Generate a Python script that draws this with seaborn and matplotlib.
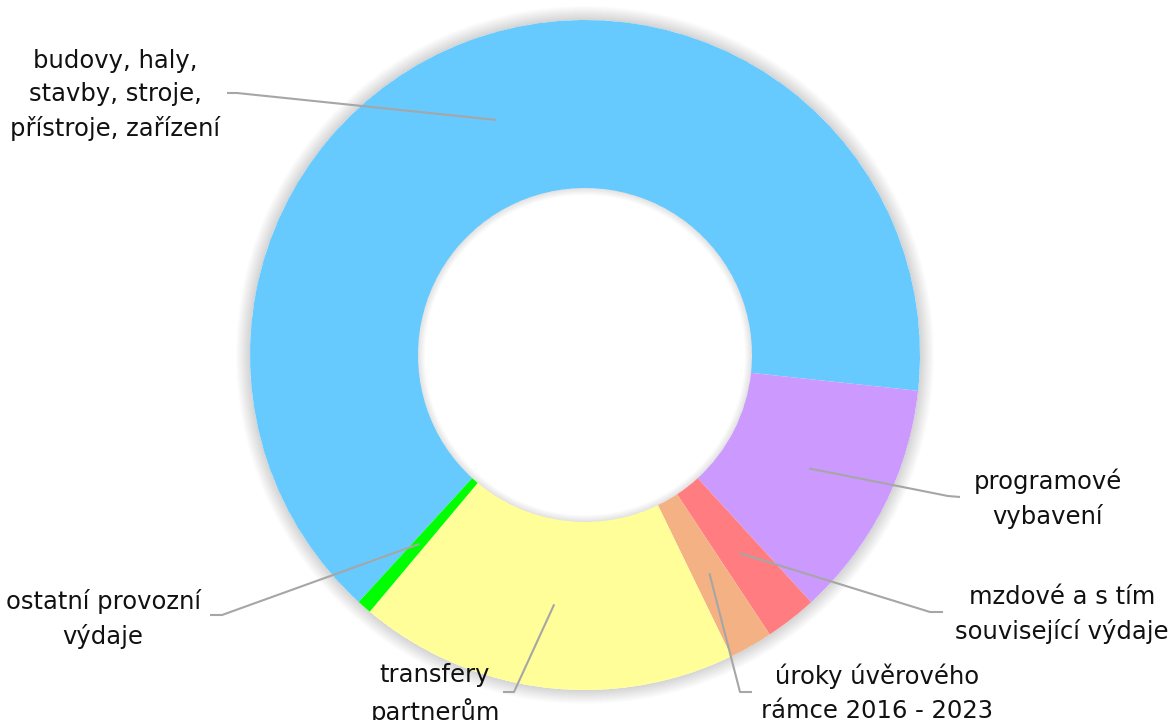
import numpy as np
import matplotlib
matplotlib.use("Agg")
import matplotlib.pyplot as plt
import seaborn as sns
from matplotlib.patches import Wedge

# Canvas in pixels
W, H = 1174, 720
CENTER = (585, H - 355)
R_OUT = 335
R_IN = 167

# Data
categories = [
    "budovy, haly,\nstavby, stroje,\npřístroje, zařízení",
    "programové\nvybavení",
    "mzdové a s tím\nsouvisející výdaje",
    "úroky úvěrového\nrámce 2016 - 2023",
    "transfery\npartnerům",
    "ostatní provozní\nvýdaje",
]
shares = [64.9, 11.5, 2.5, 2.1, 18.3, 0.7]
colors = ["#66CAFE", "#CC99FF", "#FF7C80", "#F4B183", "#FFFE99", "#00FF00"]

# label layout (pixel coords, y down): text centre, elbow, tail end
label_pos = [(115, 95), (1048, 499), (1062, 614), (877, 693), (435, 694), (103, 619)]
elbows = [(237, 93), (948, 496), (930, 612), (740, 692), (514, 692), (222, 615)]
tails = [(227, 93), (960, 497), (943, 612), (752, 692), (503, 692), (210, 615)]


def px(p):
    return p[0], H - p[1]


sns.set_theme(style="white")
plt.rcParams['font.family'] = ['DejaVu Sans']

fig = plt.figure(figsize=(W / 100, H / 100), dpi=100)
ax = fig.add_axes([0, 0, 1, 1])

# soft outer shadow (annuli so the hole stays white)
for k in range(1, 15):
    ax.add_patch(Wedge(CENTER, R_OUT + k, 0, 360, width=k, facecolor="black",
                       alpha=0.011, linewidth=0, zorder=0))

wedges, _ = ax.pie(shares, colors=colors, startangle=227.5, counterclock=False,
                   radius=R_OUT, center=CENTER,
                   wedgeprops=dict(width=R_OUT - R_IN, linewidth=0))

# soft inner shadow in the hole
for k in range(1, 8):
    ax.add_patch(Wedge(CENTER, R_IN, 0, 360, width=k, facecolor="black",
                       alpha=0.015, linewidth=0, zorder=5))

for w, label, lp, el, tl in zip(wedges, categories, label_pos, elbows, tails):
    mid = np.deg2rad((w.theta1 + w.theta2) / 2)
    anchor = (CENTER[0] + 0.75 * R_OUT * np.cos(mid),
              CENTER[1] + 0.75 * R_OUT * np.sin(mid))
    ex, ey = px(el)
    tx, ty = px(tl)
    ax.plot([anchor[0], ex, tx], [anchor[1], ey, ty], color="#A6A6A6",
            linewidth=1.5, zorder=6, solid_capstyle="butt")
    lx, ly = px(lp)
    ax.text(lx, ly, label, ha="center", va="center", fontsize=17.5,
            color="#111111", linespacing=1.5, zorder=7)

ax.set_xlim(0, W)
ax.set_ylim(0, H)
ax.set_aspect("equal")
ax.axis("off")

fig.savefig("out.png", dpi=100, facecolor="white")
